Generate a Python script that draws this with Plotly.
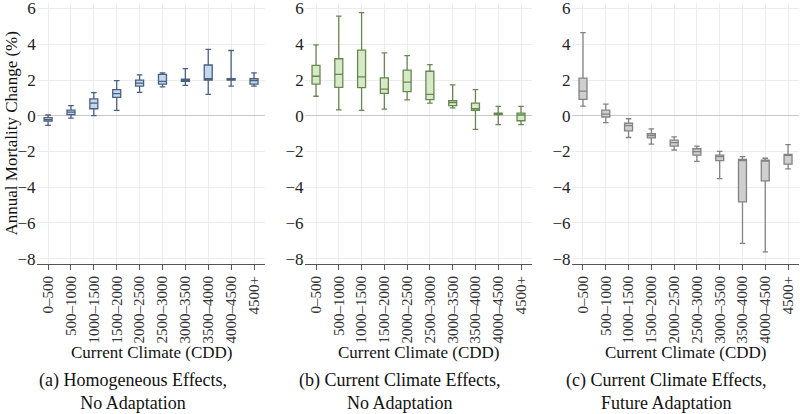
import plotly.graph_objects as go

categories = ["0–500", "500–1000", "1000–1500", "1500–2000", "2000–2500",
              "2500–3000", "3000–3500", "3500–4000", "4000–4500", "4500+"]

# Panel (a) Homogeneous Effects, No Adaptation
a_low = [-0.54, -0.13, 0.00, 0.30, 1.31, 1.62, 1.70, 1.20, 1.66, 1.66]
a_q1 = [-0.30, 0.06, 0.39, 1.03, 1.66, 1.77, 1.92, 1.99, 1.99, 1.77]
a_med = [-0.22, 0.20, 0.70, 1.24, 1.83, 1.92, 1.99, 2.07, 2.05, 1.97]
a_q3 = [-0.11, 0.31, 0.94, 1.46, 1.99, 2.31, 2.05, 2.84, 2.08, 2.07]
a_high = [0.04, 0.57, 1.29, 1.96, 2.29, 2.40, 2.64, 3.71, 3.65, 2.40]

# Panel (b) Current Climate Effects, No Adaptation
b_low = [1.09, 0.33, 0.30, 0.37, 0.89, 0.70, 0.44, -0.76, -0.50, -0.50]
b_q1 = [1.77, 1.59, 1.57, 1.25, 1.35, 0.90, 0.57, 0.30, 0.06, -0.28]
b_med = [2.21, 2.32, 2.18, 1.49, 1.88, 1.20, 0.74, 0.39, 0.11, 0.04]
b_q3 = [2.82, 3.19, 3.67, 2.12, 2.55, 2.49, 0.85, 0.70, 0.15, 0.15]
b_high = [3.97, 5.57, 5.77, 3.52, 3.36, 2.86, 1.73, 1.46, 0.52, 0.52]

# Panel (c) Current Climate Effects, Future Adaptation
c_low = [0.54, -0.39, -1.22, -1.59, -1.92, -2.56, -3.52, -7.14, -7.62, -2.97]
c_q1 = [0.92, -0.07, -0.85, -1.24, -1.70, -2.21, -2.51, -4.82, -3.65, -2.71]
c_med = [1.38, 0.09, -0.55, -1.11, -1.51, -2.01, -2.29, -2.51, -2.53, -2.20]
c_q3 = [2.10, 0.31, -0.42, -1.01, -1.37, -1.85, -2.20, -2.45, -2.49, -2.16]
c_high = [4.65, 0.65, -0.17, -0.74, -1.18, -1.70, -1.99, -2.29, -2.38, -1.62]

y_ticks = [-8, -6, -4, -2, 0, 2, 4, 6]
captions = ["(a) Homogeneous Effects,<br>No Adaptation",
            "(b) Current Climate Effects,<br>No Adaptation",
            "(c) Current Climate Effects,<br>Future Adaptation"]

panels = [
    (a_low, a_q1, a_med, a_q3, a_high, "#c5d6ef", "#4a5f82"),
    (b_low, b_q1, b_med, b_q3, b_high, "#d7eac8", "#66874f"),
    (c_low, c_q1, c_med, c_q3, c_high, "#cfcfcf", "#828282"),
]

SERIF = "Liberation Serif"
domains = [[0.0458, 0.3318], [0.3808, 0.6655], [0.7145, 0.9993]]
H = 414
bottom = 150
plot_h = H - bottom

fig = go.Figure()
for i, (lo, q1, med, q3, hi, fill, line) in enumerate(panels):
    ax = "" if i == 0 else str(i + 1)
    fig.add_trace(go.Box(
        x=categories, lowerfence=lo, q1=q1, median=med, q3=q3, upperfence=hi,
        fillcolor=fill, line=dict(color=line, width=1.3), boxpoints=False,
        whiskerwidth=0.7, xaxis="x" + ax, yaxis="y" + ax, showlegend=False,
        hoverinfo="skip"))

layout = dict(
    width=800, height=H,
    margin=dict(l=0, r=0, t=0, b=bottom),
    paper_bgcolor="white", plot_bgcolor="white",
    boxgap=0.5,
)
for i in range(3):
    ax = "" if i == 0 else str(i + 1)
    layout["xaxis" + ax] = dict(
        domain=domains[i], anchor="y" + ax, type="category",
        tickangle=-90, tickfont=dict(family=SERIF, size=15, color="#333"),
        showline=True, linecolor="#555", linewidth=1,
        ticks="outside", ticklen=5, tickcolor="#555",
        showgrid=True, gridcolor="#ececec", gridwidth=1,
    )
    layout["yaxis" + ax] = dict(
        domain=[0, 1], anchor="x" + ax, range=[-8.3, 6.31],
        tickvals=y_ticks, tickfont=dict(family=SERIF, size=17, color="#222"),
        ticklabeloverflow="allow",
        showgrid=True, gridcolor="#ececec", gridwidth=1,
        zeroline=True, zerolinecolor="#c8c8c8", zerolinewidth=1,
        showline=False, ticks="", ticklen=3,
    )
fig.update_layout(**layout)

ann = []
centers = [(d[0] + d[1]) / 2 for d in domains]
for i in range(3):
    ann.append(dict(text="Current Climate (CDD)", x=centers[i], y=(plot_h - 354) / plot_h,
                    xref="paper", yref="paper", showarrow=False,
                    xanchor="center", yanchor="middle",
                    font=dict(family=SERIF, size=17, color="#111")))
    ann.append(dict(text=captions[i], x=(i + 0.5) / 3, y=(plot_h - 393) / plot_h,
                    xref="paper", yref="paper", showarrow=False,
                    xanchor="center", yanchor="middle",
                    font=dict(family=SERIF, size=18, color="#111")))
ann.append(dict(text="Annual Mortality Change (%)", x=11 / 800, y=0.5,
                xref="paper", yref="paper", showarrow=False, textangle=-90,
                xanchor="center", yanchor="middle",
                font=dict(family=SERIF, size=17, color="#111")))
fig.update_layout(annotations=ann)

fig.write_html("out.html", config={"displayModeBar": False},
               post_script="document.body.style.margin='0';document.body.style.overflow='hidden';")
